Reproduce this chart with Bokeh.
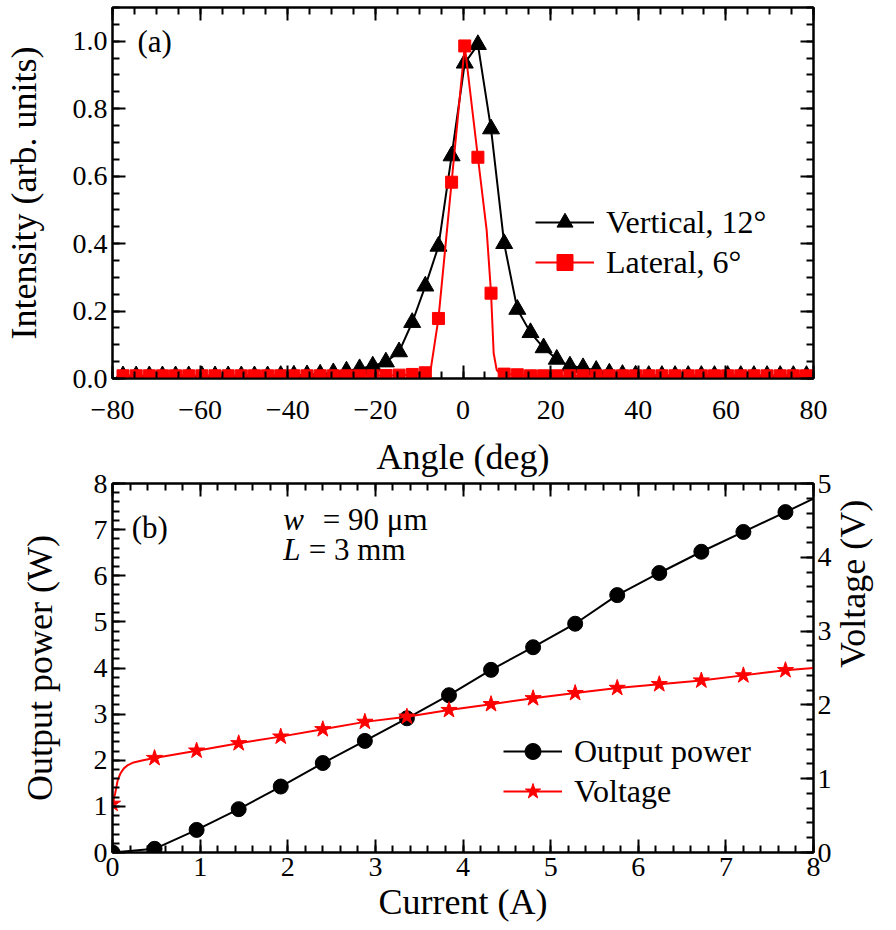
import math
from bokeh.plotting import figure
from bokeh.models import (Range1d, LinearAxis, SingleIntervalTicker, Legend,
                          LegendItem, Label, NumeralTickFormatter)
from bokeh.layouts import column
from bokeh.embed import file_html
from bokeh.resources import INLINE

FONT = "Liberation Serif"

# ---------------- data: panel (a) ----------------
angle_deg = [-77.6, -74.6, -71.6, -68.6, -65.6, -62.6, -59.6, -56.6, -53.6, -50.6,
             -47.6, -44.6, -41.6, -38.6, -35.6, -32.6, -29.6, -26.6, -23.6, -20.6,
             -17.6, -14.6, -11.6, -8.6, -5.6, -2.6, 0.4, 3.4, 6.4, 9.4,
             12.4, 15.4, 18.4, 21.4, 24.4, 27.4, 30.4, 33.4, 36.4, 39.4,
             42.4, 45.4, 48.4, 51.4, 54.4, 57.4, 60.4, 63.4, 66.4, 69.4,
             72.4, 75.4, 78.4]
vertical = [0.008, 0.008, 0.008, 0.008, 0.008, 0.008, 0.008, 0.008, 0.008, 0.008,
            0.008, 0.008, 0.009, 0.010, 0.011, 0.013, 0.017, 0.022, 0.029, 0.037,
            0.049, 0.079, 0.166, 0.274, 0.392, 0.660, 0.935, 0.990, 0.740, 0.400,
            0.205, 0.136, 0.091, 0.057, 0.037, 0.032, 0.024, 0.016, 0.012, 0.010,
            0.009, 0.009, 0.009, 0.009, 0.009, 0.009, 0.009, 0.009, 0.009, 0.009,
            0.009, 0.009, 0.009]
lateral = [0.008, 0.008, 0.008, 0.008, 0.008, 0.008, 0.008, 0.008, 0.008, 0.008,
           0.008, 0.008, 0.008, 0.008, 0.008, 0.008, 0.008, 0.008, 0.008, 0.008,
           0.009, 0.010, 0.012, 0.017, 0.178, 0.582, 0.986, 0.656, 0.253, 0.013,
           0.011, 0.008, 0.008, 0.008, 0.008, 0.008, 0.008, 0.008, 0.008, 0.008,
           0.008, 0.008, 0.008, 0.008, 0.008, 0.008, 0.008, 0.008, 0.008, 0.008,
           0.008, 0.008, 0.008]
# finer trace of the lateral curve (line only)
lateral_line_deg = [-77.6, -14.6, -11.6, -8.6, -7.4, -5.6, -2.6, 0.4, 3.4, 5.4,
                    6.4, 7.0, 7.7, 8.4, 9.4, 12.4, 15.4, 78.4]
lateral_line_val = [0.008, 0.010, 0.012, 0.017, 0.024, 0.178, 0.582, 0.986, 0.656, 0.440,
                    0.253, 0.075, 0.025, 0.015, 0.013, 0.011, 0.008, 0.008]

# ---------------- data: panel (b) ----------------
current_A = [0.0, 0.48, 0.96, 1.44, 1.92, 2.40, 2.88, 3.36, 3.84, 4.32,
             4.80, 5.28, 5.76, 6.24, 6.72, 7.20, 7.68]
power_W = [0.0, 0.08, 0.49, 0.94, 1.43, 1.94, 2.42, 2.91, 3.41, 3.96,
           4.45, 4.96, 5.58, 6.06, 6.52, 6.95, 7.38]
voltage_V = [0.66, 1.28, 1.38, 1.48, 1.57, 1.67, 1.77, 1.84, 1.93, 2.01,
             2.09, 2.16, 2.23, 2.28, 2.33, 2.40, 2.47]
power_line_A = [0.0, 0.48, 0.96, 1.44, 1.92, 2.40, 2.88, 3.36, 3.84, 4.32,
                4.80, 5.28, 5.76, 6.24, 6.72, 7.20, 7.68, 8.0]
power_line_W = [0.0, 0.08, 0.49, 0.94, 1.43, 1.94, 2.42, 2.91, 3.41, 3.96,
                4.45, 4.96, 5.58, 6.06, 6.52, 6.95, 7.38, 7.67]
volt_line_A = [0.0, 0.03, 0.06, 0.09, 0.13, 0.17, 0.24, 0.35, 0.48, 0.96,
               1.44, 1.92, 2.40, 2.88, 3.36, 3.84, 4.32, 4.80, 5.28, 5.76,
               6.24, 6.72, 7.20, 7.68, 8.0]
volt_line_V = [0.66, 0.80, 0.98, 1.07, 1.14, 1.18, 1.22, 1.25, 1.28, 1.38,
               1.48, 1.57, 1.67, 1.77, 1.84, 1.93, 2.01, 2.09, 2.16, 2.23,
               2.28, 2.33, 2.40, 2.47, 2.50]

x_minus_labels = {-80: "\u221280", -60: "\u221260", -40: "\u221240", -20: "\u221220"}

TICK_PX = "28px"
AXLAB_PX = "36px"
TEXT_PX = "31px"
LEG_PX = "32px"


def style_axis(ax, show_labels=True):
    ax.axis_line_color = "black"
    ax.axis_line_width = 2
    ax.major_tick_line_color = "black"
    ax.major_tick_line_width = 2
    ax.minor_tick_line_color = "black"
    ax.minor_tick_line_width = 2
    ax.major_tick_in = 13
    ax.major_tick_out = 0
    ax.minor_tick_in = 7
    ax.minor_tick_out = 0
    ax.major_label_text_font = FONT
    ax.major_label_text_font_size = TICK_PX
    ax.major_label_text_color = "black"
    ax.axis_label_text_font = FONT
    ax.axis_label_text_font_size = AXLAB_PX
    ax.axis_label_text_font_style = "normal"
    ax.axis_label_text_color = "black"
    if not show_labels:
        ax.major_label_text_color = None
        ax.major_label_text_font_size = "1px"
        ax.major_label_standoff = 0


def base_fig(height, top, bottom):
    p = figure(width=896, height=height, output_backend="svg", toolbar_location=None,
               min_border_left=112, min_border_right=83, min_border_top=top,
               min_border_bottom=bottom)
    p.xgrid.visible = False
    p.ygrid.visible = False
    p.outline_line_color = "black"
    p.outline_line_width = 2
    p.background_fill_color = "white"
    p.border_fill_color = "white"
    return p


def make_legend(items, loc, spacing):
    return Legend(items=items, location=loc, border_line_color=None,
                  background_fill_alpha=0, padding=0, margin=0, spacing=spacing,
                  glyph_width=59, glyph_height=40, label_height=40,
                  label_standoff=12, label_text_font=FONT,
                  label_text_font_size=LEG_PX, label_text_color="black")


# ================= panel (a) =================
p1 = base_fig(431, 7, 53)
p1.x_range = Range1d(-80, 80)
p1.y_range = Range1d(0, 1.1)

p1.xaxis.ticker = SingleIntervalTicker(interval=20, num_minor_ticks=4)
p1.yaxis.ticker = SingleIntervalTicker(interval=0.2, num_minor_ticks=4)
p1.yaxis.formatter = NumeralTickFormatter(format="0.0")
p1.xaxis.major_label_overrides = x_minus_labels
p1.yaxis.axis_label = "Intensity (arb. units)"
style_axis(p1.xaxis[0])
style_axis(p1.yaxis[0])
p1.xaxis.major_label_standoff = 22
p1.yaxis.major_label_standoff = 5
p1.yaxis.axis_label_standoff = 26

ax = LinearAxis(ticker=SingleIntervalTicker(interval=20, num_minor_ticks=4))
style_axis(ax, show_labels=False)
p1.add_layout(ax, "above")
ay = LinearAxis(ticker=SingleIntervalTicker(interval=0.2, num_minor_ticks=4))
style_axis(ay, show_labels=False)
p1.add_layout(ay, "right")

l_v = p1.line(angle_deg, vertical, line_color="black", line_width=2)
s_v = p1.scatter(angle_deg, vertical, marker="triangle", size=17,
                 fill_color="black", line_color="black")
l_l = p1.line(lateral_line_deg, lateral_line_val, line_color="#ff0000", line_width=2)
s_l = p1.scatter(angle_deg, lateral, marker="square", size=12,
                 fill_color="#ff0000", line_color="#ff0000")

p1.add_layout(make_legend(
    [LegendItem(label="Vertical, 12\u00b0", renderers=[l_v, s_v]),
     LegendItem(label="Lateral, 6\u00b0", renderers=[l_l, s_l])], (423, 96), -8), "center")

p1.add_layout(Label(x=-74.3, y=0.998, text="(a)", text_font=FONT, text_color="black",
                    text_font_size=TEXT_PX, text_baseline="middle"))

# ================= panel (b) =================
p2 = base_fig(499, 50, 78)
p2.x_range = Range1d(0, 8)
p2.y_range = Range1d(0, 8)
p2.extra_y_ranges = {"volt": Range1d(0, 5)}

# x-axis title of panel (a) sits in the gap between the two panels
p2.title.text = "Angle (deg)"
p2.title.align = "center"
p2.title.vertical_align = "top"
p2.title.text_font = FONT
p2.title.text_font_size = AXLAB_PX
p2.title.text_font_style = "normal"
p2.title.text_color = "black"
p2.title.standoff = 10

p2.xaxis.ticker = SingleIntervalTicker(interval=1, num_minor_ticks=5)
p2.yaxis.ticker = SingleIntervalTicker(interval=1, num_minor_ticks=5)
p2.xaxis.axis_label = "Current (A)"
p2.yaxis.axis_label = "Output power (W)"
style_axis(p2.xaxis[0])
style_axis(p2.yaxis[0])
p2.xaxis.major_label_standoff = 5
p2.xaxis.axis_label_standoff = 3
p2.yaxis.major_label_standoff = 5
p2.yaxis.axis_label_standoff = 31

bx = LinearAxis(ticker=SingleIntervalTicker(interval=1, num_minor_ticks=5))
style_axis(bx, show_labels=False)
p2.add_layout(bx, "above")
vy = LinearAxis(y_range_name="volt", axis_label="Voltage (V)",
                ticker=SingleIntervalTicker(interval=1, num_minor_ticks=5))
style_axis(vy)
vy.major_label_standoff = 4
vy.axis_label_standoff = 18
vy.axis_label_orientation = math.pi / 2
p2.add_layout(vy, "right")

l_p = p2.line(power_line_A, power_line_W, line_color="black", line_width=2)
s_p = p2.scatter(current_A, power_W, marker="circle", size=15,
                 fill_color="black", line_color="black")
l_u = p2.line(volt_line_A, volt_line_V, line_color="#ff0000", line_width=2,
              y_range_name="volt")
s_u = p2.scatter(current_A, voltage_V, marker="star", size=17,
                 fill_color="#ff0000", line_color="#ff0000", y_range_name="volt")

p2.add_layout(make_legend(
    [LegendItem(label="Output power", renderers=[l_p, s_p]),
     LegendItem(label="Voltage", renderers=[l_u, s_u])], (391, 41), -10), "center")

p2.add_layout(Label(x=0.22, y=7.05, text="(b)", text_font=FONT, text_color="black",
                    text_font_size=TEXT_PX, text_baseline="middle"))
p2.add_layout(Label(x=1.95, y=7.23, text="w", text_font=FONT, text_font_style="italic",
                    text_color="black", text_font_size=TEXT_PX, text_baseline="middle"))
p2.add_layout(Label(x=2.40, y=7.23, text="= 90 \u03bcm", text_font=FONT,
                    text_color="black", text_font_size=TEXT_PX, text_baseline="middle"))
p2.add_layout(Label(x=1.95, y=6.57, text="L", text_font=FONT, text_font_style="italic",
                    text_color="black", text_font_size=TEXT_PX, text_baseline="middle"))
p2.add_layout(Label(x=2.24, y=6.57, text="= 3 mm", text_font=FONT,
                    text_color="black", text_font_size=TEXT_PX, text_baseline="middle"))

layout = column(p1, p2)
open("out.html", "w").write(file_html(layout, INLINE))
